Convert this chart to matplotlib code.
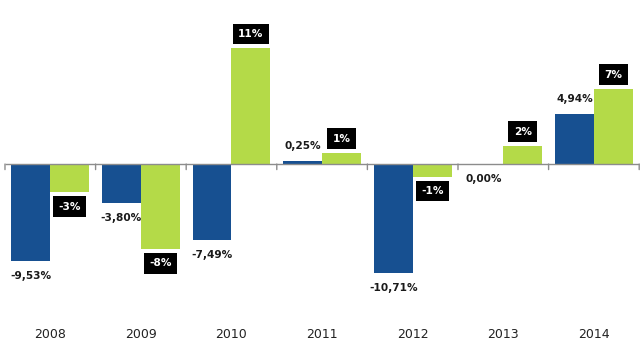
import matplotlib
matplotlib.use("Agg")
import matplotlib.pyplot as plt
import numpy as np

years = ["2008", "2009", "2010", "2011", "2012", "2013", "2014"]
blue_vals = [-9.53, -3.80, -7.49, 0.25, -10.71, 0.00, 4.94]
blue_labels = ["-9,53%", "-3,80%", "-7,49%", "0,25%", "-10,71%", "0,00%", "4,94%"]
green_vals = [-2.8, -8.4, 11.4, 1.1, -1.25, 1.8, 7.4]
green_labels = ["-3%", "-8%", "11%", "1%", "-1%", "2%", "7%"]

BLUE = "#175091"
GREEN = "#B4DA48"
AXIS = "#8C8C8C"

fig = plt.figure(figsize=(6.44, 3.51), dpi=100)
ax = fig.add_axes([0, 0, 1, 1])
ax.set_xlim(-0.555, 6.553)
ax.set_ylim(-18.42, 16.16)
ax.axis("off")

x = np.arange(len(years))
w = 0.43
ax.bar(x - w / 2, blue_vals, width=w, color=BLUE, zorder=2)
ax.bar(x + w / 2, green_vals, width=w, color=GREEN, zorder=2)

# axis line and ticks
ax.plot([-0.5, 6.5], [0, 0], color=AXIS, lw=1.0, zorder=3, solid_capstyle="butt")
for b in np.arange(-0.5, 7.0, 1.0):
    ax.annotate("", xy=(b, 0), xytext=(0, -4), textcoords="offset points",
                arrowprops=dict(arrowstyle="-", color=AXIS, lw=1.0, shrinkA=0, shrinkB=0))

for xi, yr in zip(x, years):
    ax.annotate(yr, xy=(xi, 0), xytext=(0, -123), textcoords="offset points",
                ha="center", va="center", fontsize=9, color="#222222")

for xi, v, lab in zip(x, blue_vals, blue_labels):
    off = 10.8 if v > 0 else -10.8
    ax.annotate(lab, xy=(xi - w / 2, v), xytext=(0, off), textcoords="offset points",
                ha="center", va="center", fontsize=7.6, fontweight="bold", color="#1a1a1a")

for xi, v, lab in zip(x, green_vals, green_labels):
    off = 10.2 if v > 0 else -10.2
    ax.annotate(lab, xy=(xi + w / 2, v), xytext=(0, off), textcoords="offset points",
                ha="center", va="center", fontsize=7.6, fontweight="bold", color="white",
                bbox=dict(boxstyle="square,pad=0.5", fc="black", ec="none"))

fig.savefig("out.png", dpi=100)
